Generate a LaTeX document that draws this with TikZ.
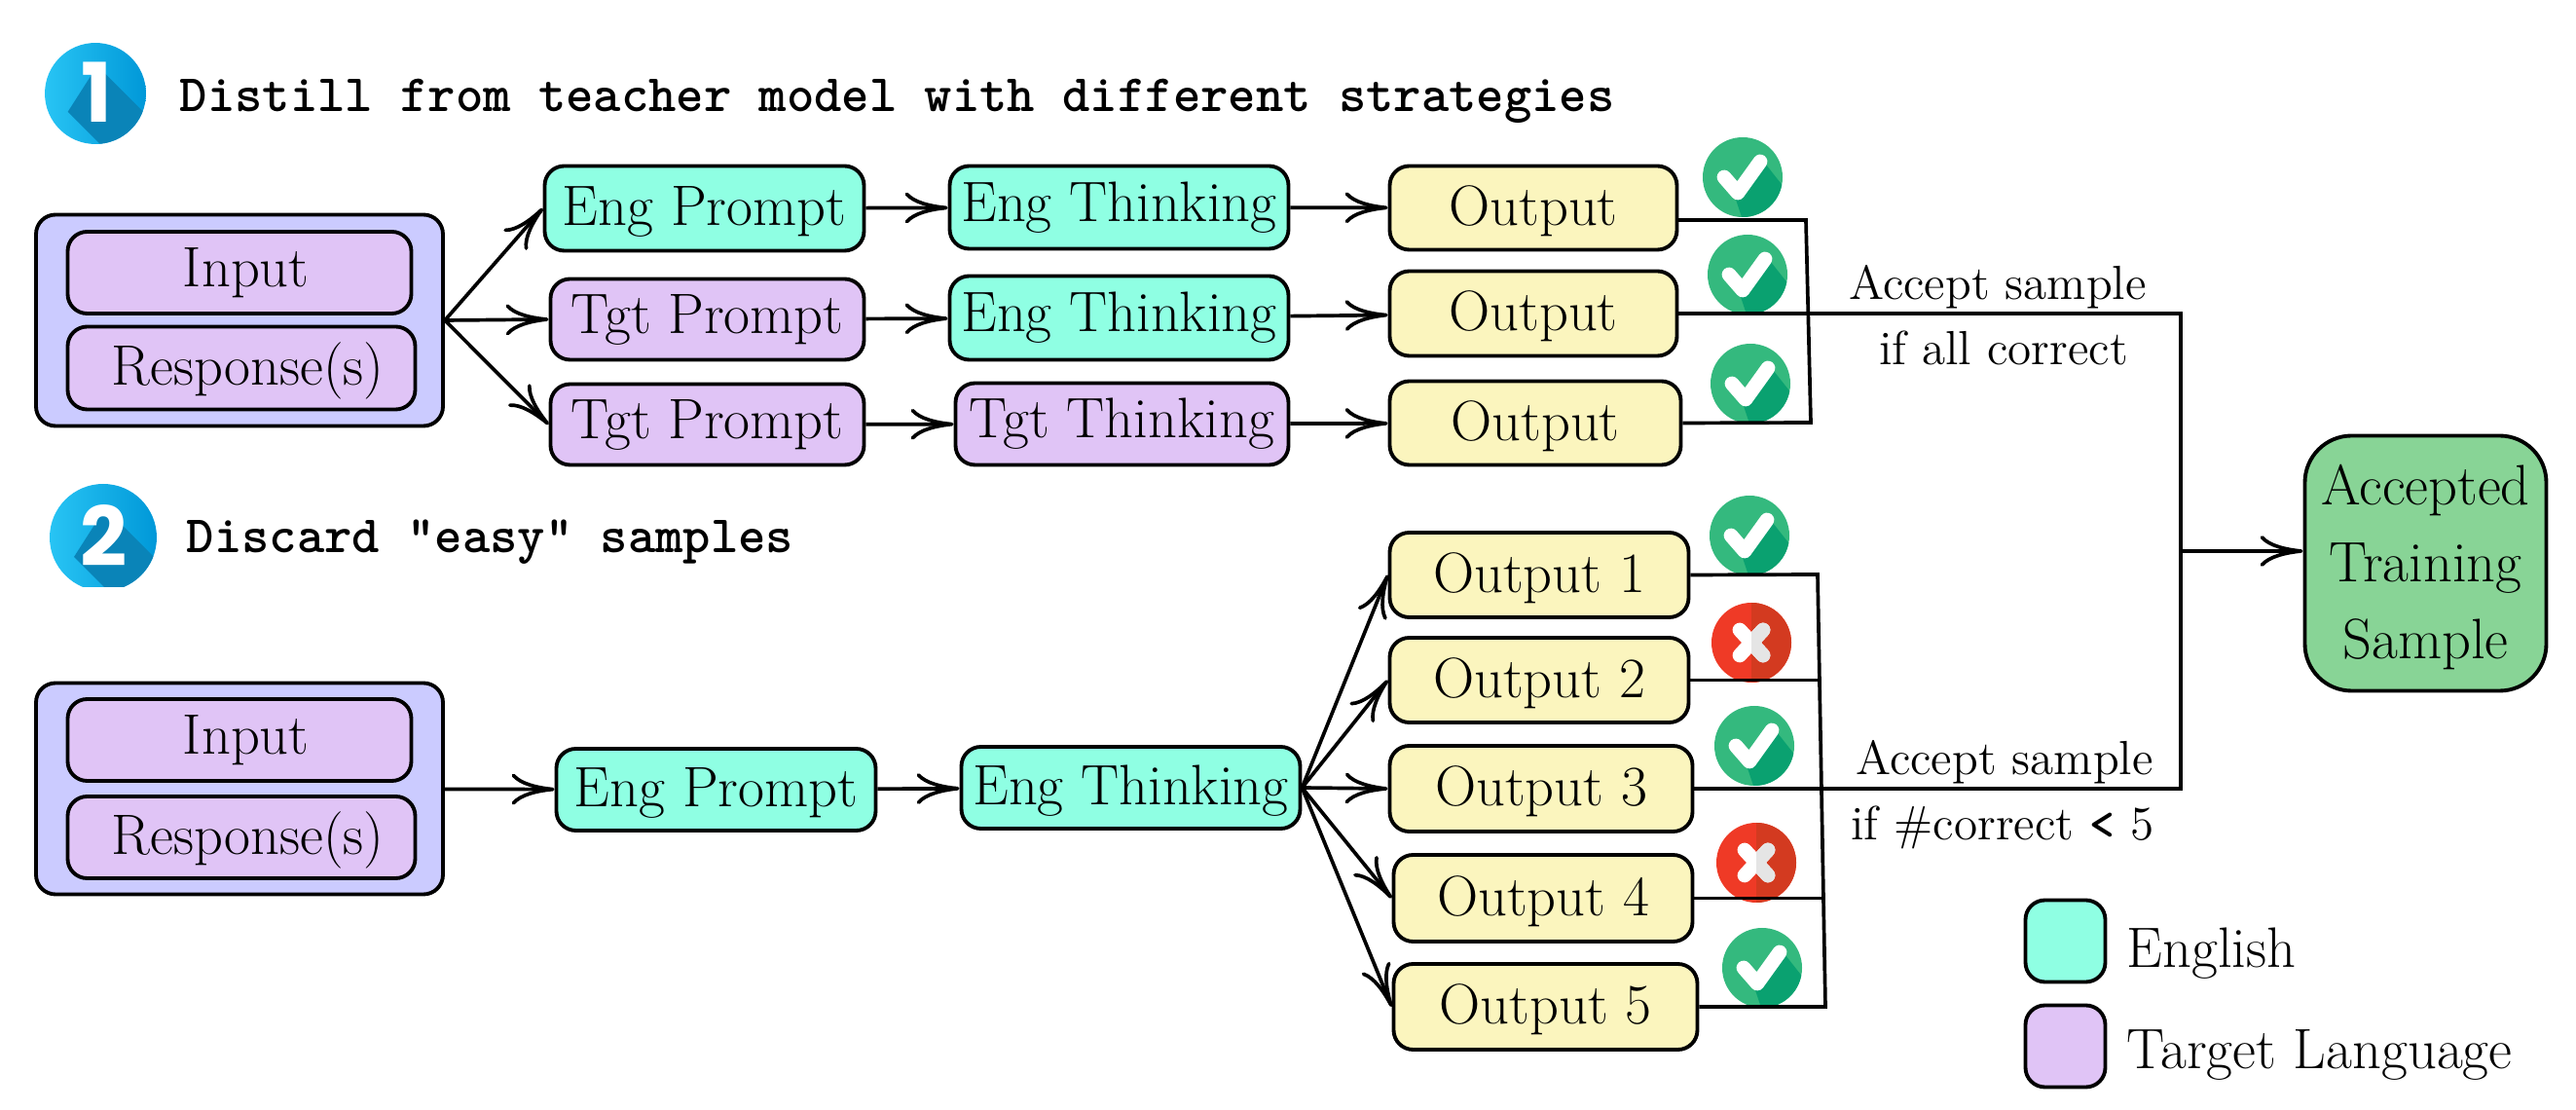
\documentclass[tikz,border=0pt]{standalone}
\usepackage{fontspec}
\newfontfamily\digitfont{Poppins}
\usetikzlibrary{arrows.meta}
\definecolor{engcol}{HTML}{8FFFE3}
\definecolor{tgtcol}{HTML}{E0C4F6}
\definecolor{outcol}{HTML}{FBF5BE}
\definecolor{accol}{HTML}{88D496}
\definecolor{wrapcol}{HTML}{CBCBFF}
\definecolor{okcol}{HTML}{34B97E}
\definecolor{okdark}{HTML}{0AA170}
\definecolor{badcol}{HTML}{EF3A26}
\definecolor{baddark}{HTML}{D33A20}
\definecolor{bluel}{HTML}{28C4F4}
\definecolor{bluer}{HTML}{0098D8}
\definecolor{blued}{HTML}{0A84B8}
\newcommand{\boxfont}{\fontsize{16.65}{22.5}\selectfont}
\newcommand{\nudge}{\hspace*{1.35mm}}
\tikzstyle{box}=[draw, line width=1.1pt, rounded corners=2mm, inner sep=0pt,
    font=\boxfont, text centered]
\tikzstyle{low}=[text height=13.4pt, text depth=3.2pt]
\tikzstyle{eng}=[box, fill=engcol]
\tikzstyle{tgt}=[box, fill=tgtcol]
\tikzstyle{outp}=[box, low, fill=outcol]
\tikzstyle{wrap}=[box, fill=wrapcol]
\tikzstyle{acc}=[box, fill=accol, rounded corners=4.8mm, align=center, text depth=1pt]
\tikzstyle{heading}=[anchor=base west, inner sep=0pt,
    font=\fontsize{15.36}{18}\selectfont\ttfamily\bfseries]
\tikzstyle{digit}=[text=white, inner sep=0pt, font=\fontsize{24}{24}\selectfont\digitfont\bfseries]
\tikzstyle{lbl}=[anchor=base, inner sep=0pt, font=\fontsize{14}{16}\selectfont]
\tikzstyle{legend}=[anchor=base west, inner sep=0pt, font=\boxfont]
\tikzstyle{line}=[line width=1.05pt]
\tikzstyle{arr}=[line width=1.05pt, -{Computer Modern Rightarrow[length=4.4mm,width=3.2mm]}]
\tikzset{
  okmark/.pic={
    \fill[okcol] (0,0) circle (.41);
    \begin{scope}
      \clip (0,0) circle (.41);
      \fill[okdark] (.2,.18) -- (.5,-.2) -- (.5,-.5) -- (.02,-.5) -- (-.08,-.2) -- cycle;
    \end{scope}
    \draw[white, line width=4.2pt, line cap=round, line join=round]
      (-.19,0) -- (-.05,-.16) -- (.18,.16);
  },
  badmark/.pic={
    \fill[badcol] (0,0) circle (.41);
    \fill[baddark] (0,.41) arc (90:-90:.41) -- cycle;
    \draw[white, line width=4.2pt, line cap=round] (-.12,-.13) -- (.12,.13) (-.12,.13) -- (.12,-.13);
    \begin{scope}
      \clip (0,-.4) rectangle (.4,.4);
      \draw[black!10, line width=4.2pt, line cap=round] (-.12,-.13) -- (.12,.13) (-.12,.13) -- (.12,-.13);
    \end{scope}
  },
  stepdisc/.pic={
    \shade[left color=bluel, right color=bluer] (0,0) circle (.55);
    \begin{scope}
      \clip (0,0) circle (.55);
      \fill[blued] (.02,.3) -- (.62,-.3) -- (.2,-.7) -- (-.3,-.2) -- cycle;
    \end{scope}
  }
}
\begin{document}
\begin{tikzpicture}
    \useasboundingbox (0,0) rectangle (26.46,11.40);
    \coordinate (top) at (0,11.40);
    % step headings
    \path (top)+(.98,-.96) pic[scale=.945] {stepdisc};
    \path (top)+(.99,-.95) node (one) [digit] {1};
    \begin{scope}
      \clip (.4,5.37) rectangle (1.8,7);
      \path (top)+(1.06,-5.52) pic {stepdisc};
    \end{scope}
    \path (top)+(1.07,-5.50) node (two) [digit] {2};
    \path (top)+(1.84,-1.15) node (headone) [heading] {Distill from teacher model with different strategies};
    \path (top)+(1.91,-5.68) node (headtwo) [heading] {Discard "easy" samples};
    % first row of boxes
    \path (top)+(2.46,-3.29) node (wrapa) [wrap, minimum width=4.18cm, minimum height=2.17cm] {};
    \path (top)+(2.46,-2.80) node (ina) [tgt, minimum width=3.53cm, minimum height=.84cm] {\nudge Input};
    \path (top)+(2.48,-3.78) node (respa) [tgt, low, minimum width=3.57cm, minimum height=.85cm] {\nudge Response(s)};
    \path (top)+(7.235,-2.14) node (pa) [eng, low, minimum width=3.28cm, minimum height=.87cm] {Eng Prompt};
    \path (top)+(7.265,-3.28) node (pb) [tgt, minimum width=3.22cm, minimum height=.83cm] {Tgt Prompt};
    \path (top)+(7.265,-4.36) node (pc) [tgt, minimum width=3.22cm, minimum height=.83cm] {Tgt Prompt};
    \path (top)+(11.495,-2.13) node (tha) [eng, minimum width=3.48cm, minimum height=.85cm] {Eng Thinking};
    \path (top)+(11.495,-3.265) node (thb) [eng, minimum width=3.48cm, minimum height=.86cm] {Eng Thinking};
    \path (top)+(11.525,-4.355) node (thc) [tgt, minimum width=3.42cm, minimum height=.84cm] {Tgt Thinking};
    \path (top)+(15.75,-2.135) node (oa) [outp, minimum width=2.95cm, minimum height=.86cm] {Output};
    \path (top)+(15.75,-3.22) node (ob) [outp, minimum width=2.95cm, minimum height=.87cm] {Output};
    \path (top)+(15.77,-4.345) node (oc) [outp, minimum width=2.99cm, minimum height=.86cm] {Output};
    % second row of boxes
    \path (top)+(2.46,-8.10) node (wrapb) [wrap, minimum width=4.18cm, minimum height=2.17cm] {};
    \path (top)+(2.46,-7.60) node (inb) [tgt, minimum width=3.53cm, minimum height=.84cm] {\nudge Input};
    \path (top)+(2.48,-8.60) node (respb) [tgt, low, minimum width=3.57cm, minimum height=.84cm] {\nudge Response(s)};
    \path (top)+(7.355,-8.11) node (pd) [eng, low, minimum width=3.28cm, minimum height=.84cm] {Eng Prompt};
    \path (top)+(11.615,-8.09) node (thd) [eng, low, minimum width=3.48cm, minimum height=.84cm] {Eng Thinking};
    \path (top)+(15.81,-5.905) node (ra) [outp, minimum width=3.07cm, minimum height=.87cm] {Output 1};
    \path (top)+(15.81,-6.985) node (rb) [outp, minimum width=3.07cm, minimum height=.87cm] {Output 2};
    \path (top)+(15.83,-8.10) node (rc) [outp, minimum width=3.11cm, minimum height=.88cm] {Output 3};
    \path (top)+(15.85,-9.225) node (rd) [outp, minimum width=3.07cm, minimum height=.89cm] {Output 4};
    \path (top)+(15.875,-10.34) node (re) [outp, minimum width=3.12cm, minimum height=.88cm] {Output 5};
    \path (top)+(24.915,-5.785) node (acc) [acc, minimum width=2.48cm, minimum height=2.62cm] {Accepted\\Training\\Sample};
    % legend
    \path (top)+(21.215,-9.665) node (legeng) [eng, minimum width=.82cm, minimum height=.84cm] {};
    \path (top)+(21.215,-10.745) node (legtgt) [tgt, minimum width=.82cm, minimum height=.84cm] {};
    \path (top)+(21.84,-9.94) node (txteng) [legend] {English};
    \path (top)+(21.84,-10.98) node (txttgt) [legend] {Target Language};
    % marks
    \foreach \x/\y/\m in {17.90/-1.82/okmark, 17.95/-2.82/okmark, 17.98/-3.94/okmark,
        17.97/-5.50/okmark, 17.99/-6.60/badmark, 18.02/-7.66/okmark, 18.04/-8.86/badmark,
        18.10/-9.94/okmark}
      \path (top)+(\x,\y) pic {\m};
    % arrows
    \foreach \a/\b in {pa/tha, pb/thb, pc/thc, tha/oa, thb/ob, thc/oc, wrapb/pd, pd/thd}
      \draw[arr] (\a) -- (\b);
    \foreach \b in {pa, pb, pc}
      \draw[arr] (wrapa.east) -- (\b.west);
    \foreach \b in {ra, rb, rc, rd, re}
      \draw[arr] (thd.east) -- (\b.west);
    % collecting lines
    \path (top)+(17.24,-2.26) coordinate (oaout);
    \path (top)+(18.55,-2.26) coordinate (bra);
    \path (top)+(18.60,-4.34) coordinate (brb);
    \path (top)+(22.40,-3.22) coordinate (joina);
    \path (top)+(18.67,-5.90) coordinate (brd);
    \path (top)+(18.75,-10.34) coordinate (bre);
    \path (top)+(18.69,-6.985) coordinate (brf);
    \path (top)+(18.73,-9.225) coordinate (brh);
    \path (top)+(22.40,-8.10) coordinate (joinb);
    \path (top)+(22.40,-5.66) coordinate (joinc);
    \draw[line] (oaout) -- (bra) -- (brb) -- (oc.east);
    \draw[line] (ob.east) -- (joina) -- (joinb) -- (rc.east);
    \draw[line] (ra.east) -- (brd) -- (bre) -- (re.east);
    \draw[line] (rb.east) -- (brf);
    \draw[line] (rd.east) -- (brh);
    \draw[arr] (joinc) -- (joinc -| acc.west);
    % texts on the lines
    \path (top)+(20.52,-3.075) node (accepta) [lbl] {Accept sample};
    \path (top)+(20.58,-3.745) node (alla) [lbl] {if all correct};
    \path (top)+(20.59,-7.955) node (acceptb) [lbl] {Accept sample};
    \path (top)+(20.57,-8.625) node (allb) [lbl] {if \#correct \textbf{\texttt{<}} 5};
\end{tikzpicture}
\end{document}
